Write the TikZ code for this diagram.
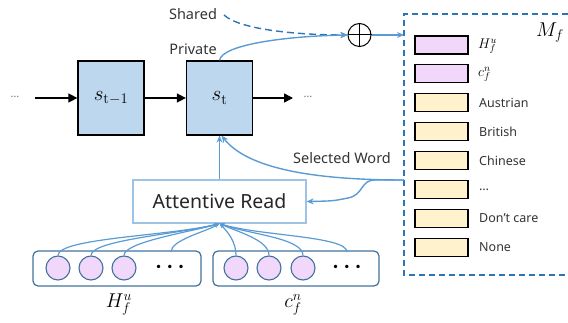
\RequirePackage{fix-cm}
\documentclass[tikz,border=0pt]{standalone}
\usepackage{fontspec}
\setsansfont{Noto Sans}
\usetikzlibrary{arrows.meta}
\definecolor{cellblue}{HTML}{BDD7EE}
\definecolor{lblue}{HTML}{5B9BD5}
\definecolor{dblue}{HTML}{2E75B6}
\definecolor{abox}{HTML}{9DC3E6}
\definecolor{gbord}{HTML}{41719C}
\definecolor{mpink}{HTML}{F1D7FA}
\definecolor{myel}{HTML}{FFF2CC}
\definecolor{txt}{HTML}{333333}
\tikzset{
  cell/.style={draw=black, line width=1.3pt, fill=cellblue, minimum width=66pt, minimum height=74pt, inner sep=0pt, font=\fontsize{21}{24}\selectfont},
  blk/.style={draw=black, line width=1.5pt, -{Triangle[length=9pt,width=9pt]}},
  conn/.style={draw=lblue, line width=1.4pt, -{Stealth[length=7pt,width=6pt]}},
  att/.style={draw=lblue, line width=1.2pt, -{Stealth[length=5pt,width=4pt]}},
  lab/.style={font=\sffamily\fontsize{14.5}{17}\selectfont, text=txt, inner sep=0pt},
  memlab/.style={font=\sffamily\fontsize{12.5}{15}\selectfont, text=txt, inner sep=0pt, anchor=west},
  memmath/.style={font=\fontsize{14}{16}\selectfont, text=black, inner sep=0pt, anchor=west},
  mem/.style={draw=black, line width=1.2pt, minimum width=53pt, minimum height=18pt, inner sep=0pt},
  grp/.style={draw=gbord, line width=1.2pt, rounded corners=5pt, minimum height=35pt, inner sep=0pt},
  ball/.style={circle, draw=gbord, line width=1.1pt, fill=mpink, minimum size=24pt, inner sep=0pt},
  attnbox/.style={draw=abox, line width=1.2pt, fill=white, minimum width=173pt, minimum height=43pt, font=\sffamily\fontsize{19.5}{23}\selectfont, text=black!85},
  sdots/.style={font=\sffamily\fontsize{11}{12}\selectfont, text=black!55, inner sep=0pt},
  bdots/.style={font=\fontsize{22}{22}\selectfont\boldmath, inner sep=0pt}
}
\begin{document}
\begin{tikzpicture}[x=1pt,y=-1pt]
\useasboundingbox (0,0) rectangle (568,323);

% recurrent cells
\node[cell] (s1) at (111,98) {$s_{\mathrm{t}-1}$};
\node[cell] (s2) at (219.5,98) {$s_{\mathrm{t}}$};
\node[sdots] (ld) at (15,97) {\dots};
\node[sdots] (rd) at (308,97) {\dots};
\coordinate (a0) at (35,98);
\coordinate (a1) at (293,98);
\draw[blk] (a0) -- (s1);
\draw[blk] (s1) -- (s2);
\draw[blk] (s2) -- (a1);

% oplus
\node[circle, draw=black, line width=1pt, minimum size=23pt, inner sep=0pt] (op) at (359.5,35) {};
\draw[line width=1pt] (op.north) -- (op.south) (op.west) -- (op.east);

\node[lab] (shared) at (193,14) {Shared};
\node[lab] (private) at (193,49) {Private};
\coordinate (sh) at (224,15);
\draw[draw=dblue, line width=1.4pt, dash pattern=on 7pt off 4pt, -{Stealth[length=7pt,width=6pt]}] (sh) .. controls (240,30) and (300,35) .. (op.west);
\draw[conn] (s2.north) .. controls (222,44) and (290,36) .. (op.west);

% memory Mf
\draw[draw=dblue, line width=1.3pt, dash pattern=on 6pt off 4pt] (568,14) -- (404,14) -- (404,275) -- (568,275);
\node[font=\fontsize{20}{24}\selectfont] (mflab) at (550,33) {$M_f$};
\coordinate (mfin) at (404,35);
\draw[conn] (op.east) -- (mfin);

\node[mem, fill=mpink] (m0) at (441.5,45) {};
\node[memmath] (ml0) at (478,46) {$H_f^u$};
\node[mem, fill=mpink] (m1) at (441.5,73.9) {};
\node[memmath] (ml1) at (478,74.5) {$c_f^n$};
\foreach \i/\lb in {2/Austrian, 3/British, 4/Chinese, 5/{\dots}, 6/Don't care, 7/None}{
  \node[mem, fill=myel] (m\i) at (441.5,{45+28.9*\i}) {};
  \node[memlab] (ml\i) at (479,{45+28.9*\i}) {\lb};
}

% attentive read
\node[attnbox] (ar) at (219.5,201.5) {Attentive Read};
\draw[conn] (ar.north) -- (s2.south);
\coordinate (mfout) at (404,180);
\draw[conn] (mfout) .. controls (300,180) and (245,165) .. ([xshift=2pt]s2.south);
\draw[conn] (mfout) -- (375,180) .. controls (360,180) and (364,195) .. (348,198) .. controls (333,201) .. (ar.east);
\node[lab] (sel) at (342,158) {Selected Word};

% inputs
\node[grp, minimum width=168pt] (gH) at (117,268.5) {};
\node[grp, minimum width=166pt] (gC) at (296,268.5) {};
\node[ball] (h1) at (58,268) {};
\node[ball] (h2) at (91,268) {};
\node[ball] (h3) at (124,268) {};
\node[bdots] (hd) at (170,267) {$\cdots$};
\node[ball] (c1) at (236,268) {};
\node[ball] (c2) at (269,268) {};
\node[ball] (c3) at (303,268) {};
\node[bdots] (cd) at (347,267) {$\cdots$};
\node[font=\fontsize{20}{24}\selectfont] (lH) at (119,305) {$H_f^u$};
\node[font=\fontsize{20}{24}\selectfont] (lC) at (293,305) {$c_f^n$};

\draw[att] (h1.north) .. controls (58,238) and (170,236) .. (ar.south);
\draw[att] (h2.north) .. controls (91,240) and (180,234) .. (ar.south);
\draw[att] (h3.north) .. controls (124,242) and (190,232) .. (ar.south);
\draw[att] (171,252) .. controls (171,240) and (205,232) .. (ar.south);
\draw[att] (c1.north) .. controls (236,242) and (228,232) .. (ar.south);
\draw[att] (c2.north) .. controls (269,240) and (238,232) .. (ar.south);
\draw[att] (c3.north) .. controls (303,238) and (248,234) .. (ar.south);
\draw[att] (347,252) .. controls (347,236) and (260,236) .. (ar.south);
\end{tikzpicture}
\end{document}
